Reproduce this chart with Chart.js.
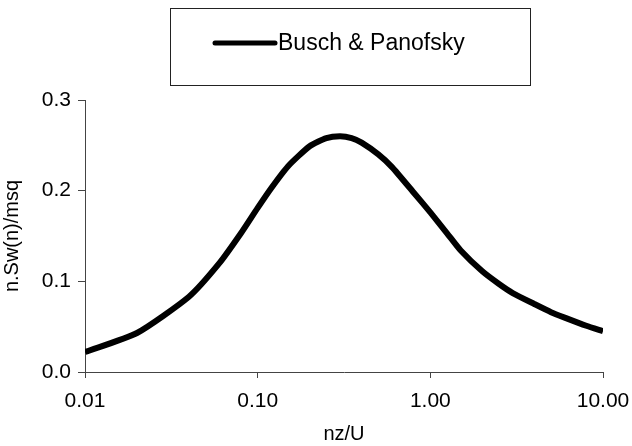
<!DOCTYPE html>
<html>
<head>
<meta charset="utf-8">
<script src="https://cdn.jsdelivr.net/npm/chart.js@4.4.1/dist/chart.umd.min.js"></script>
<style>
  html, body { margin: 0; padding: 0; background: #fff; }
  #wrap { width: 632px; height: 446px; position: relative; }
</style>
</head>
<body>
<div id="wrap"><canvas id="chart"></canvas></div>
<script>
/* ── Data ── */
const seriesLabel = "Busch & Panofsky";
const nzU = [0.01, 0.02, 0.04, 0.06, 0.08, 0.1, 0.12, 0.15, 0.2, 0.25, 0.3, 0.35, 0.4, 0.5, 0.6, 0.8, 1.0, 1.25, 1.5, 2, 2.5, 3, 4, 5, 6, 8, 10];
const spectrum = [0.022, 0.043, 0.083, 0.120, 0.153, 0.181, 0.203, 0.227, 0.249, 0.258, 0.260, 0.258, 0.253, 0.240, 0.226, 0.198, 0.176, 0.153, 0.134, 0.111, 0.097, 0.087, 0.075, 0.066, 0.060, 0.051, 0.045];
const xTicks = [0.01, 0.1, 1, 10];
const xTickLabels = ["0.01", "0.10", "1.00", "10.00"];
const yTicks = [0, 0.1, 0.2, 0.3];

const FONT = "'Liberation Sans', Arial, sans-serif";

/* ── Boxed legend drawn above the plot ── */
const boxLegend = {
  id: "boxLegend",
  afterDraw(chart) {
    const ctx = chart.ctx;
    ctx.save();
    ctx.strokeStyle = "#222";
    ctx.lineWidth = 1;
    ctx.strokeRect(170.5, 8.5, 360, 77);
    ctx.strokeStyle = "#000";
    ctx.lineWidth = 5;
    ctx.lineCap = "round";
    ctx.beginPath();
    ctx.moveTo(215, 43);
    ctx.lineTo(275, 43);
    ctx.stroke();
    ctx.fillStyle = "#000";
    ctx.font = "23px " + FONT;
    ctx.textBaseline = "middle";
    ctx.fillText(chart.data.datasets[0].label, 278, 44);
    ctx.restore();
  }
};

new Chart(document.getElementById("chart"), {
  type: "line",
  data: {
    datasets: [{
      label: seriesLabel,
      data: nzU.map((x, i) => ({ x: x, y: spectrum[i] })),
      borderColor: "#000",
      borderWidth: 6,
      pointRadius: 0,
      tension: 0.2,
      fill: false
    }]
  },
  options: {
    responsive: true,
    maintainAspectRatio: false,
    animation: false,
    layout: { padding: { top: 100, right: 0, left: 0, bottom: 0 } },
    plugins: { legend: { display: false }, tooltip: { enabled: false } },
    scales: {
      x: {
        type: "logarithmic",
        min: 0.01,
        max: 10,
        afterBuildTicks: (s) => { s.ticks = xTicks.map(v => ({ value: v })); },
        afterFit: (s) => { s.height = 74; s.paddingRight = 29; },
        grid: { drawOnChartArea: false, color: "#444", tickLength: 6 },
        border: { color: "#444", width: 1 },
        ticks: {
          color: "#000",
          font: { family: FONT, size: 21 },
          padding: 11,
          maxRotation: 0,
          autoSkip: false,
          callback: (v) => xTickLabels[xTicks.indexOf(v)] ?? ""
        },
        title: {
          display: true,
          text: "nz/U",
          color: "#000",
          font: { family: FONT, size: 20 },
          padding: { top: 0, bottom: 0 }
        }
      },
      y: {
        min: 0,
        max: 0.3,
        afterBuildTicks: (s) => { s.ticks = yTicks.map(v => ({ value: v })); },
        afterFit: (s) => { s.width = 85; },
        grid: { drawOnChartArea: false, color: "#444", tickLength: 7 },
        border: { color: "#444", width: 1 },
        ticks: {
          color: "#000",
          font: { family: FONT, size: 21 },
          padding: 7,
          callback: (v) => v.toFixed(1)
        },
        title: {
          display: true,
          text: "n.Sw(n)/msq",
          color: "#000",
          font: { family: FONT, size: 20 },
          padding: { top: 0, bottom: 2 }
        }
      }
    }
  },
  plugins: [boxLegend]
});
</script>
</body>
</html>
